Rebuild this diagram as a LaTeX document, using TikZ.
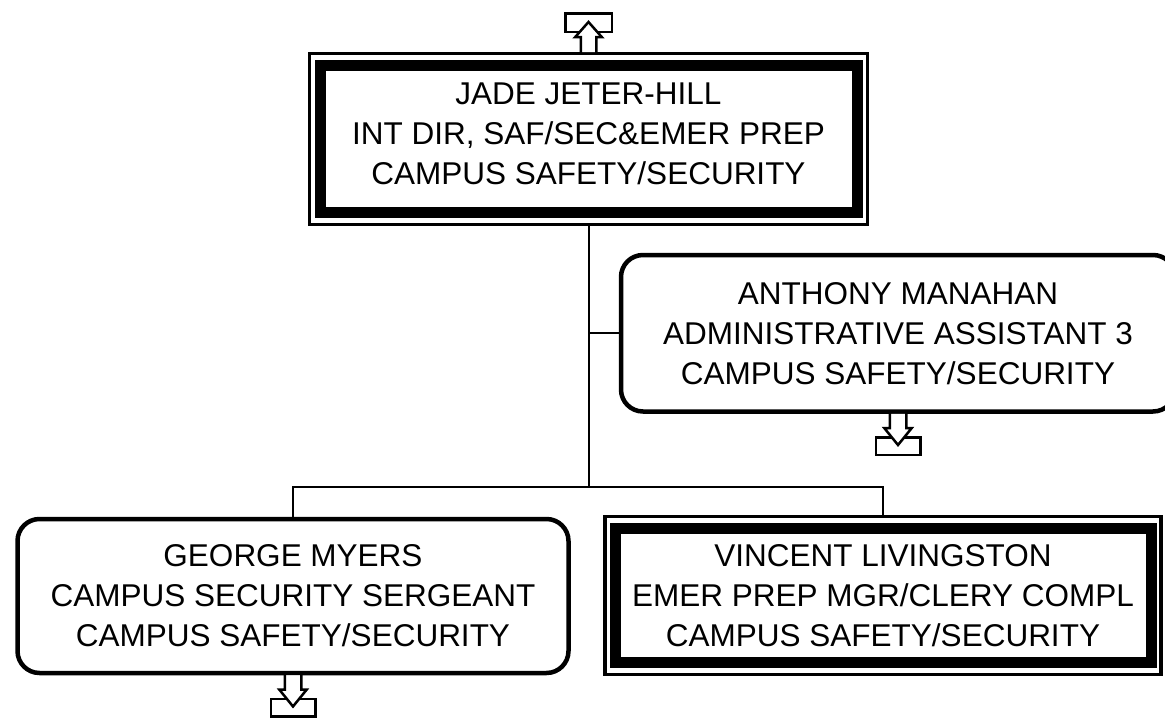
\documentclass[tikz,border=0pt]{standalone}
\usepackage{fontspec}
\setmainfont{Liberation Sans}
\newcommand\orgdownicon[1]{%
  \begin{scope}[shift={(#1)}]
    \draw[icon] (-22.25,25.75) rectangle (22.25,43.25);
    \fill[white] (-8.25,2.25) -- (-8.25,16.5) -- (-13.75,16.5) -- (0,33.5) -- (13.75,16.5) -- (8.25,16.5) -- (8.25,2.25) -- cycle;
    \draw[icon] (-8.25,0) -- (-8.25,16.5) -- (-13.75,16.5) -- (0,33.5) -- (13.75,16.5) -- (8.25,16.5) -- (8.25,0);
  \end{scope}}
\begin{document}
\begin{tikzpicture}[x=1pt,y=-1pt,
  txt/.style={font=\fontsize{31.5}{40}\selectfont, align=center, inner sep=0pt, outer sep=0pt},
  thickbox/.style={txt, draw, line width=11pt, rectangle},
  framebox/.style={draw, line width=3pt, rectangle, inner sep=0pt, outer sep=0pt},
  roundbox/.style={txt, draw, line width=4.5pt, rounded corners=22pt},
  conn/.style={line width=2pt},
  icon/.style={line width=2.5pt, line join=miter}]
\useasboundingbox (0,0) rectangle (1165,718);
\clip (0,0) rectangle (1165,718);

% boxes
\node[framebox, minimum width=558pt, minimum height=171pt] (jadeframe) at (588.5,139) {};
\node[thickbox, minimum width=537pt, minimum height=147pt] (jade) at (588.5,139)
  {JADE JETER-HILL\\INT DIR, SAF/SEC\&EMER PREP\\CAMPUS SAFETY/SECURITY\rule[-10pt]{0pt}{10pt}};

\node[roundbox, minimum width=554pt, minimum height=156.5pt] (anthony) at (898,333.25)
  {ANTHONY MANAHAN\\ADMINISTRATIVE ASSISTANT 3\\CAMPUS SAFETY/SECURITY};

\node[roundbox, minimum width=551pt, minimum height=154pt] (george) at (293,596)
  {GEORGE MYERS\\CAMPUS SECURITY SERGEANT\\CAMPUS SAFETY/SECURITY};

\node[framebox, line width=3.5pt, minimum width=556pt, minimum height=158pt] (vincentframe) at (883,595.25) {};
\node[thickbox, minimum width=536pt, minimum height=134.5pt] (vincent) at (883,595.25)
  {VINCENT LIVINGSTON\\EMER PREP MGR/CLERY COMPL\\CAMPUS SAFETY/SECURITY};

% connectors
\coordinate (bus) at (588.5,487);
\draw[conn] (jadeframe.south) -- (bus);
\draw[conn] (jadeframe.south |- anthony.west) -- (anthony.west);
\draw[conn] (george.north) |- (bus) -| (vincentframe.north);

% up icon above top box
\begin{scope}[shift={(jadeframe.north)}]
  \draw[icon] (-23.25,-40.25) rectangle (23.25,-21.75);
  \fill[white] (-7.75,-1.5) -- (-7.75,-16.5) -- (-13.25,-16.5) -- (0,-31.5) -- (13.25,-16.5) -- (7.75,-16.5) -- (7.75,-1.5) -- cycle;
  \draw[icon] (-7.75,0) -- (-7.75,-16.5) -- (-13.25,-16.5) -- (0,-31.5) -- (13.25,-16.5) -- (7.75,-16.5) -- (7.75,0);
\end{scope}

% down icons
\orgdownicon{anthony.south}
\orgdownicon{george.south}
\end{tikzpicture}
\end{document}
